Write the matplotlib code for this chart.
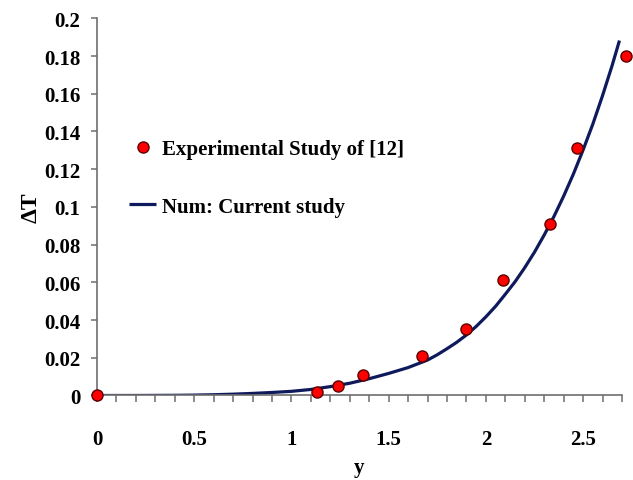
#!/usr/bin/env python3

import matplotlib
matplotlib.use('Agg')
import matplotlib.pyplot as plt
from matplotlib.ticker import MultipleLocator, FuncFormatter

# experimental points
exp_y = [0.0, 1.13, 1.24, 1.37, 1.67, 1.90, 2.09, 2.33, 2.47, 2.72]
exp_dT = [0.0, 0.002, 0.005, 0.011, 0.021, 0.035, 0.061, 0.091, 0.131, 0.180]

# numerical curve, sampled along the drawn line
num_y = [0.0, 0.2, 0.4, 0.5, 0.6, 0.7, 0.8, 0.9, 1.0, 1.1, 1.2, 1.3, 1.4, 1.5,
	1.6, 1.7, 1.75, 1.8, 1.85, 1.9, 1.95, 2.0, 2.05, 2.1, 2.15, 2.2, 2.25, 2.3,
	2.35, 2.4, 2.45, 2.5, 2.55, 2.6, 2.65, 2.687]
num_dT = [0.0, 0.0, 0.0001, 0.0002, 0.0004, 0.0007, 0.0011, 0.0016, 0.0022, 0.0032,
	0.0047, 0.0065, 0.0089, 0.0117, 0.0148, 0.0188, 0.0216, 0.0248, 0.0282, 0.0321,
	0.0366, 0.0417, 0.0473, 0.0537, 0.0603, 0.0678, 0.0760, 0.0851, 0.0949, 0.1057,
	0.1174, 0.1302, 0.1439, 0.1590, 0.1752, 0.1882]

plt.rcParams['font.family'] = ['Liberation Serif', 'DejaVu Serif']
plt.rcParams['font.weight'] = 'bold'

fig = plt.figure(figsize=(6.33, 4.81), dpi=100)
ax = fig.add_axes([0.1532, 0.1757, 0.9826 - 0.1532, 0.9599 - 0.1757])

ax.plot(num_y, num_dT, color='#0f1a5c', lw=2.3, solid_capstyle='butt', label='Num: Current study', zorder=2)
ax.plot(exp_y, exp_dT, ls='none', marker='o', ms=8, mfc='#ff0000', mec='#5a0000', mew=1,
	label='Experimental Study of [12]', clip_on=False, zorder=3)

ax.set_xlim(0, 2.7)
ax.set_ylim(0, 0.2)
ax.xaxis.set_major_locator(MultipleLocator(0.5))
ax.xaxis.set_minor_locator(MultipleLocator(0.1))
ax.yaxis.set_major_locator(MultipleLocator(0.02))
fmt = FuncFormatter(lambda v, p: f"{v:g}")
ax.xaxis.set_major_formatter(fmt)
ax.yaxis.set_major_formatter(fmt)

for s in ['top', 'right']:
	ax.spines[s].set_visible(False)
for s in ['left', 'bottom']:
	ax.spines[s].set_color('#6e6e6e')
	ax.spines[s].set_linewidth(1.2)

ax.tick_params(axis='both', which='both', direction='out', color='#6e6e6e', width=1.1, labelsize=15)
ax.tick_params(axis='x', which='both', length=5, pad=19)
ax.tick_params(axis='y', which='both', length=4, pad=8)

ax.set_xlabel('y', fontsize=15, fontweight='bold', labelpad=6)
ax.set_ylabel('ΔT', fontsize=17, fontweight='bold', labelpad=2)

handles, labels = ax.get_legend_handles_labels()
ax.legend(handles[::-1], labels[::-1], loc='upper left', bbox_to_anchor=(129 / 633, 1 - 140 / 481),
	bbox_transform=fig.transFigure, frameon=False, fontsize=15, handlelength=1.3,
	handletextpad=0.3, borderpad=0, borderaxespad=0, labelspacing=1.8, numpoints=1)

fig.savefig('out.png', dpi=100)
